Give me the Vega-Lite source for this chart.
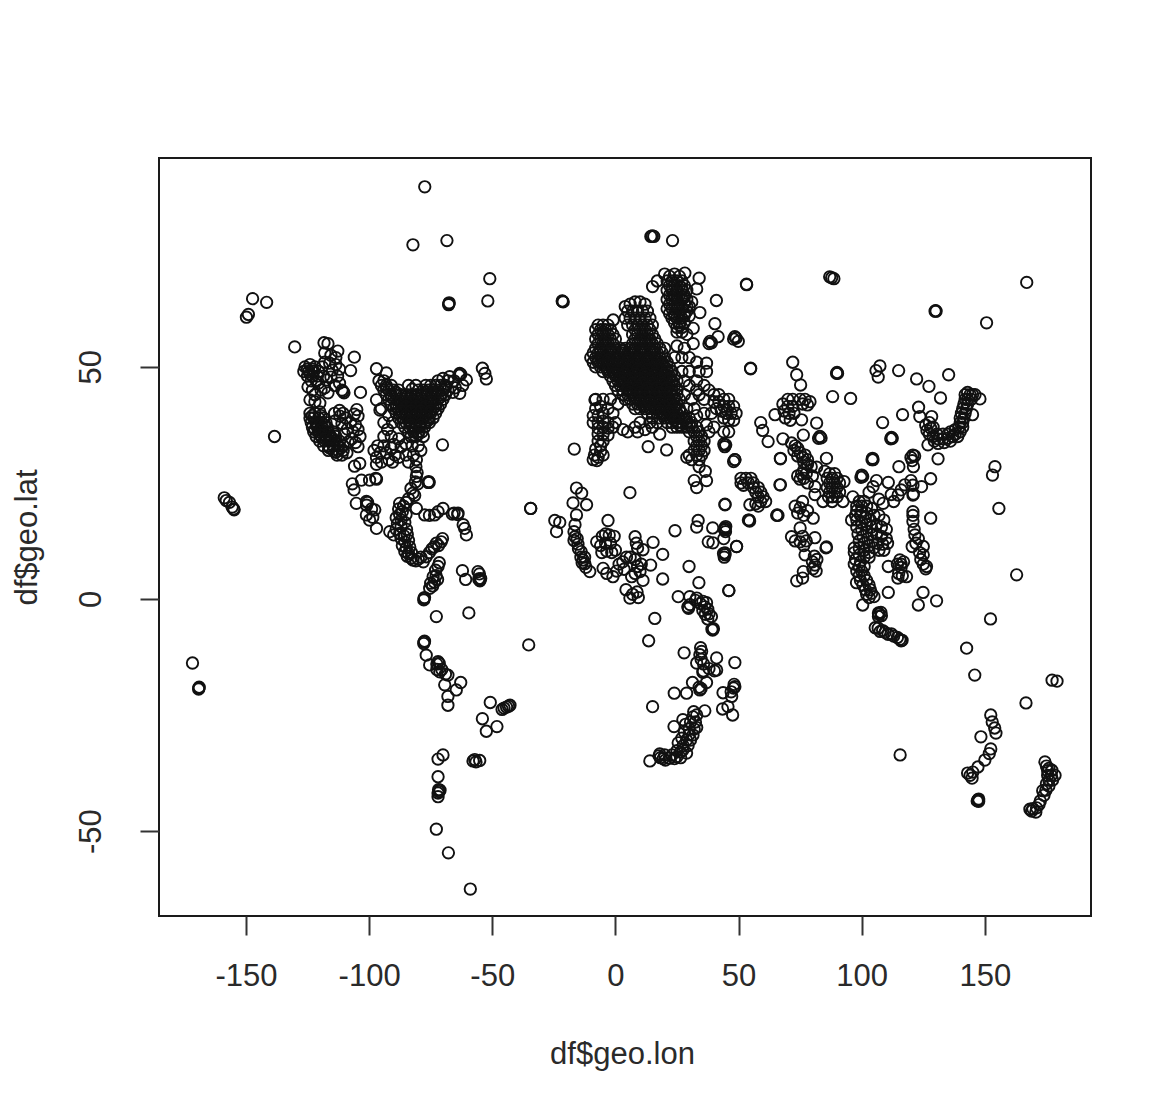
{"$schema":"https://vega.github.io/schema/vega-lite/v6.json","width":932,"height":758,"autosize":"none","padding":{"left":159,"top":158,"right":79,"bottom":194},"background":"white","config":{"view":{"stroke":"#1a1a1a","strokeWidth":2,"fill":"white"},"font":"Liberation Sans"},
"data":{"values":[
{"lon":-77.4,"lat":88.8},{"lon":-82.2,"lat":76.3},{"lon":-68.4,"lat":77.2},{"lon":-67.6,"lat":63.6},{"lon":-67.5,"lat":63.8},{"lon":-67.7,"lat":63.4},{"lon":-51,"lat":69},{"lon":-51.8,"lat":64.2},{"lon":-147.3,"lat":64.7},{"lon":-141.6,"lat":63.9},{"lon":-149.8,"lat":60.7},{"lon":-149,"lat":61.3},{"lon":-130.2,"lat":54.3},{"lon":-138.4,"lat":35},{"lon":-70.2,"lat":33.2},{"lon":-158.8,"lat":21.8},{"lon":-158,"lat":21.2},{"lon":-156.7,"lat":20.8},{"lon":-155.6,"lat":19.8},{"lon":-155,"lat":19.4},{"lon":-154.8,"lat":19.2},{"lon":-34.4,"lat":19.5},
{"lon":-171.7,"lat":-13.8},{"lon":-169.1,"lat":-19.2},{"lon":-169,"lat":-19},{"lon":-169.2,"lat":-19.4},{"lon":-77.7,"lat":0.1},{"lon":-77.5,"lat":0.3},{"lon":-77.8,"lat":-0.2},{"lon":-72.7,"lat":-3.8},{"lon":-59.5,"lat":-3},{"lon":-35.2,"lat":-9.9},{"lon":-77.7,"lat":-9.3},{"lon":-77.5,"lat":-9.1},{"lon":-77.8,"lat":-9.6},{"lon":-76.8,"lat":-12.1},{"lon":-75.4,"lat":-14.2},{"lon":-72,"lat":-13.5},{"lon":-72.5,"lat":-14},{"lon":-71.5,"lat":-13.9},{"lon":-71.3,"lat":-15.7},{"lon":-72.5,"lat":-15.2},{"lon":-70.5,"lat":-15.2},{"lon":-68,"lat":-16.4},{"lon":-69,"lat":-16.2},{"lon":-69.3,"lat":-18.5},{"lon":-62.8,"lat":-18},{"lon":-64.6,"lat":-19.6},{"lon":-68,"lat":-21},{"lon":-68,"lat":-22.9},{"lon":-50.8,"lat":-22.3},{"lon":-46,"lat":-23.8},{"lon":-45.2,"lat":-23.5},{"lon":-44.2,"lat":-23.3},{"lon":-43.4,"lat":-23.1},{"lon":-42.8,"lat":-22.9},{"lon":-54,"lat":-25.8},{"lon":-48.1,"lat":-27.5},{"lon":-52.4,"lat":-28.5},{"lon":-70,"lat":-33.6},{"lon":-72,"lat":-34.5},{"lon":-72,"lat":-38.3},{"lon":-71.6,"lat":-41.5},{"lon":-71.2,"lat":-41.2},{"lon":-72,"lat":-41.8},{"lon":-71.8,"lat":-41.1},{"lon":-72,"lat":-42.6},{"lon":-72.7,"lat":-49.6},{"lon":-67.8,"lat":-54.7},{"lon":-58.9,"lat":-62.5},{"lon":-57.8,"lat":-34.9},{"lon":-57.1,"lat":-34.6},{"lon":-56.6,"lat":-35.1},{"lon":-55.1,"lat":-34.8},
{"lon":-34.4,"lat":19.5},{"lon":-80.8,"lat":30},{"lon":-81,"lat":28.5},{"lon":-80.5,"lat":27.2},{"lon":-80.8,"lat":26.4},{"lon":-81.2,"lat":25.2},{"lon":-80.2,"lat":24.8},{"lon":-75.8,"lat":25.3},{"lon":-75.6,"lat":25.1},{"lon":-76,"lat":25.1},{"lon":-82.2,"lat":22.8},{"lon":-83,"lat":23.8},{"lon":-81.5,"lat":22.3},{"lon":-84,"lat":21.6},{"lon":-85,"lat":20.8},{"lon":-87.6,"lat":20.6},{"lon":-86,"lat":20},{"lon":-88,"lat":19.4},{"lon":-86.5,"lat":18.8},{"lon":-85,"lat":18.2},{"lon":-87.6,"lat":18.2},{"lon":-89,"lat":17.5},{"lon":-87,"lat":17},{"lon":-85.5,"lat":16.5},{"lon":-88.5,"lat":16.2},{"lon":-87,"lat":15.6},{"lon":-84.8,"lat":15},{"lon":-89,"lat":15},{"lon":-91.6,"lat":14.5},{"lon":-87.6,"lat":14.1},{"lon":-85.8,"lat":13.6},{"lon":-84.5,"lat":13.9},{"lon":-90,"lat":13.8},{"lon":-87,"lat":13},{"lon":-85.5,"lat":12.3},{"lon":-84,"lat":12.6},{"lon":-86.5,"lat":11.5},{"lon":-84.9,"lat":11},{"lon":-83.5,"lat":11.2},{"lon":-85.5,"lat":10.2},{"lon":-84,"lat":9.8},{"lon":-82.8,"lat":10},{"lon":-84.5,"lat":9.2},{"lon":-83,"lat":8.8},{"lon":-82.2,"lat":8.4},{"lon":-81,"lat":8.2},{"lon":-80,"lat":8.6},{"lon":-79,"lat":9},{"lon":-76.8,"lat":9.1},{"lon":-78,"lat":8},{"lon":-75.5,"lat":10},{"lon":-74.5,"lat":10.8},{"lon":-73.6,"lat":11.2},{"lon":-72.7,"lat":12},{"lon":-71.8,"lat":11.5},{"lon":-70.7,"lat":12.3},{"lon":-70.2,"lat":13},{"lon":-72,"lat":7},{"lon":-73,"lat":6.2},{"lon":-71.5,"lat":7.8},{"lon":-74,"lat":4.8},{"lon":-72.8,"lat":5},{"lon":-72.2,"lat":4.2},{"lon":-73.5,"lat":3.6},{"lon":-75.4,"lat":2.3},{"lon":-74.2,"lat":2.8},{"lon":-75,"lat":3.4},{"lon":-80.8,"lat":19.5},{"lon":-77.4,"lat":18.1},{"lon":-75.5,"lat":18},{"lon":-73.4,"lat":18.1},{"lon":-72,"lat":18.8},{"lon":-70,"lat":19.5},{"lon":-66.2,"lat":18.3},{"lon":-65.5,"lat":18.5},{"lon":-63.9,"lat":18.5},{"lon":-64,"lat":18.2},{"lon":-61.8,"lat":16},{"lon":-61.2,"lat":15.2},{"lon":-60.5,"lat":13.8},{"lon":-62.1,"lat":6.1},{"lon":-60.8,"lat":4.2},{"lon":-55.8,"lat":5.9},{"lon":-55.2,"lat":5.4},{"lon":-55.1,"lat":4.1},{"lon":-55,"lat":3.9},{"lon":-55.5,"lat":4.3},{"lon":-54.7,"lat":4.4},
{"lon":-105.9,"lat":28.6},{"lon":-103.8,"lat":29.2},{"lon":-106.8,"lat":24.8},{"lon":-106.1,"lat":23.5},{"lon":-103.1,"lat":25.6},{"lon":-99.8,"lat":25.6},{"lon":-97.3,"lat":26},{"lon":-97,"lat":25.8},{"lon":-105.2,"lat":20.6},{"lon":-101.1,"lat":21},{"lon":-101,"lat":20.2},{"lon":-100.6,"lat":20.8},{"lon":-99,"lat":19.4},{"lon":-97.7,"lat":19.2},{"lon":-101.1,"lat":18.1},{"lon":-99.8,"lat":17},{"lon":-98.5,"lat":17.6},{"lon":-97,"lat":15.2},
{"lon":-98,"lat":32},{"lon":-97,"lat":30.5},{"lon":-96.5,"lat":33},{"lon":-95.5,"lat":31.5},{"lon":-97,"lat":29},{"lon":-95,"lat":29.5},{"lon":-94,"lat":33},{"lon":-93,"lat":31.5},{"lon":-92,"lat":30},{"lon":-90.5,"lat":29.5},{"lon":-91,"lat":32.5},{"lon":-89.5,"lat":31},{"lon":-88,"lat":30.5},{"lon":-95,"lat":41},{"lon":-92,"lat":39.5},{"lon":-94,"lat":38},{"lon":-90.5,"lat":38},{"lon":-92.5,"lat":36.5},{"lon":-94,"lat":35},{"lon":-91,"lat":35},{"lon":-88,"lat":34.5},{"lon":-90,"lat":33.3},{"lon":-87,"lat":32.8},{"lon":-85,"lat":33.4},{"lon":-85,"lat":31},{"lon":-82.5,"lat":33},{"lon":-80,"lat":33},{"lon":-78,"lat":35},{"lon":-79,"lat":32},{"lon":-82,"lat":31},{"lon":-84,"lat":29.5},
{"lon":-124,"lat":40},{"lon":-122,"lat":40},{"lon":-120,"lat":40.3},{"lon":-124,"lat":39},{"lon":-122.5,"lat":39},{"lon":-120.5,"lat":39},{"lon":-118.5,"lat":39},{"lon":-123.5,"lat":38},{"lon":-121.5,"lat":38},{"lon":-119.5,"lat":38},{"lon":-117.5,"lat":38},{"lon":-123,"lat":37},{"lon":-121,"lat":37},{"lon":-119,"lat":37},{"lon":-117,"lat":37},{"lon":-122.5,"lat":36},{"lon":-120.5,"lat":36},{"lon":-118.5,"lat":36},{"lon":-116.5,"lat":36},{"lon":-114.5,"lat":36},{"lon":-121.5,"lat":35},{"lon":-119.5,"lat":35},{"lon":-117.5,"lat":35},{"lon":-115.5,"lat":35},{"lon":-113.5,"lat":35},{"lon":-120,"lat":34},{"lon":-118,"lat":34},{"lon":-116,"lat":34},{"lon":-114,"lat":34},{"lon":-112,"lat":34},{"lon":-118.5,"lat":33},{"lon":-116.5,"lat":33},{"lon":-114.5,"lat":33},{"lon":-112.5,"lat":33},{"lon":-110.5,"lat":33},{"lon":-116.5,"lat":32},{"lon":-114.5,"lat":32},{"lon":-112.5,"lat":32},{"lon":-110.5,"lat":32},{"lon":-113,"lat":31},{"lon":-111,"lat":31},{"lon":-109,"lat":31.5},{"lon":-123,"lat":39.5},{"lon":-119.5,"lat":39.5},{"lon":-121,"lat":37.6},{"lon":-118,"lat":37.5},{"lon":-122,"lat":36.5},{"lon":-119.5,"lat":36.5},{"lon":-116.5,"lat":35.5},{"lon":-114,"lat":35.5},{"lon":-120,"lat":35.4},{"lon":-118,"lat":34.5},{"lon":-115,"lat":34.5},{"lon":-113,"lat":33.5},{"lon":-116,"lat":32.5},{"lon":-111.5,"lat":32.5},{"lon":-113.5,"lat":31.6},
{"lon":-114,"lat":40},{"lon":-112,"lat":40.6},{"lon":-110.6,"lat":40},{"lon":-111.9,"lat":39.4},{"lon":-109.5,"lat":39},{"lon":-114,"lat":38.3},{"lon":-111,"lat":37.8},{"lon":-107.5,"lat":38},{"lon":-105,"lat":40.8},{"lon":-104.5,"lat":39.4},{"lon":-106,"lat":39.8},{"lon":-105.5,"lat":37.5},{"lon":-108.8,"lat":36.6},{"lon":-106.5,"lat":36},{"lon":-104.5,"lat":36.5},{"lon":-110,"lat":35.5},{"lon":-107,"lat":34.5},{"lon":-103.7,"lat":35},{"lon":-104.5,"lat":32.8},{"lon":-105.5,"lat":33.7},{"lon":-108.5,"lat":33.8},
{"lon":-126,"lat":50},{"lon":-124,"lat":50.5},{"lon":-122,"lat":50},{"lon":-126.5,"lat":49},{"lon":-124.5,"lat":49},{"lon":-122.5,"lat":49},{"lon":-120.5,"lat":49},{"lon":-125,"lat":48},{"lon":-123,"lat":48},{"lon":-121,"lat":48},{"lon":-123.5,"lat":47},{"lon":-121.5,"lat":47},{"lon":-125,"lat":49.5},{"lon":-123,"lat":49.5},{"lon":-124,"lat":48.5},{"lon":-118.3,"lat":55.2},{"lon":-116.7,"lat":55},{"lon":-112.7,"lat":53.4},{"lon":-106,"lat":52.1},{"lon":-107.5,"lat":49.2},{"lon":-97,"lat":49.6},{"lon":-93,"lat":48.7},{"lon":-118,"lat":53},{"lon":-115.5,"lat":52.5},{"lon":-113.5,"lat":52},{"lon":-118,"lat":51},{"lon":-116,"lat":50.8},{"lon":-113.5,"lat":50.5},{"lon":-119,"lat":50},{"lon":-115,"lat":49.3},{"lon":-112,"lat":49.5},{"lon":-118.5,"lat":48},{"lon":-115.5,"lat":47.8},{"lon":-112.8,"lat":48},{"lon":-117.3,"lat":47.2},{"lon":-110.6,"lat":44.7},{"lon":-111,"lat":45},{"lon":-110.2,"lat":44.4},{"lon":-103.5,"lat":44.5},{"lon":-116.7,"lat":44.4},{"lon":-124.8,"lat":45.7},{"lon":-124,"lat":42.9},{"lon":-120,"lat":42.2},{"lon":-122,"lat":44},{"lon":-119.5,"lat":45},{"lon":-114,"lat":46},{"lon":-112,"lat":46.5},{"lon":-123,"lat":45},{"lon":-120.5,"lat":46.5},{"lon":-118,"lat":45.5},{"lon":-122,"lat":42.5},
{"lon":-97,"lat":42.9},{"lon":-95.6,"lat":40.7},{"lon":-96,"lat":47},{"lon":-94,"lat":47},{"lon":-72,"lat":47},{"lon":-70,"lat":47.5},{"lon":-68,"lat":47},{"lon":-95,"lat":46},{"lon":-93,"lat":46},{"lon":-91,"lat":46},{"lon":-77,"lat":46},{"lon":-75,"lat":46},{"lon":-73,"lat":46},{"lon":-71,"lat":46},{"lon":-69,"lat":46},{"lon":-94,"lat":45},{"lon":-92,"lat":45},{"lon":-90,"lat":45},{"lon":-88,"lat":45},{"lon":-80,"lat":45},{"lon":-78,"lat":45},{"lon":-76,"lat":45},{"lon":-74,"lat":45},{"lon":-72,"lat":45},{"lon":-70,"lat":45},{"lon":-68,"lat":45},{"lon":-93,"lat":44},{"lon":-91,"lat":44},{"lon":-89,"lat":44},{"lon":-87,"lat":44},{"lon":-85,"lat":44},{"lon":-83,"lat":44},{"lon":-81,"lat":44},{"lon":-79,"lat":44},{"lon":-77,"lat":44},{"lon":-75,"lat":44},{"lon":-73,"lat":44},{"lon":-71,"lat":44},{"lon":-69,"lat":44},{"lon":-92,"lat":43},{"lon":-90,"lat":43},{"lon":-88,"lat":43},{"lon":-86,"lat":43},{"lon":-84,"lat":43},{"lon":-82,"lat":43},{"lon":-80,"lat":43},{"lon":-78,"lat":43},{"lon":-76,"lat":43},{"lon":-74,"lat":43},{"lon":-72,"lat":43},{"lon":-70,"lat":43},{"lon":-91,"lat":42},{"lon":-89,"lat":42},{"lon":-87,"lat":42},{"lon":-85,"lat":42},{"lon":-83,"lat":42},{"lon":-81,"lat":42},{"lon":-79,"lat":42},{"lon":-77,"lat":42},{"lon":-75,"lat":42},{"lon":-73,"lat":42},{"lon":-71,"lat":42},{"lon":-90,"lat":41},{"lon":-88,"lat":41},{"lon":-86,"lat":41},{"lon":-84,"lat":41},{"lon":-82,"lat":41},{"lon":-80,"lat":41},{"lon":-78,"lat":41},{"lon":-76,"lat":41},{"lon":-74,"lat":41},{"lon":-72,"lat":41},{"lon":-89,"lat":40},{"lon":-87,"lat":40},{"lon":-85,"lat":40},{"lon":-83,"lat":40},{"lon":-81,"lat":40},{"lon":-79,"lat":40},{"lon":-77,"lat":40},{"lon":-75,"lat":40},{"lon":-73,"lat":40},{"lon":-88,"lat":39},{"lon":-86,"lat":39},{"lon":-84,"lat":39},{"lon":-82,"lat":39},{"lon":-80,"lat":39},{"lon":-78,"lat":39},{"lon":-76,"lat":39},{"lon":-74,"lat":39},{"lon":-87,"lat":38},{"lon":-85,"lat":38},{"lon":-83,"lat":38},{"lon":-81,"lat":38},{"lon":-79,"lat":38},{"lon":-77,"lat":38},{"lon":-75.5,"lat":38},{"lon":-85.5,"lat":37},{"lon":-83.5,"lat":37},{"lon":-81.5,"lat":37},{"lon":-79.5,"lat":37},{"lon":-77.5,"lat":37},{"lon":-84,"lat":36},{"lon":-82,"lat":36},{"lon":-80,"lat":36},{"lon":-78.5,"lat":36},{"lon":-83,"lat":35},{"lon":-81,"lat":35},{"lon":-93,"lat":45.5},{"lon":-89,"lat":44.5},{"lon":-85,"lat":43.5},{"lon":-81,"lat":43.5},{"lon":-77,"lat":44.5},{"lon":-73,"lat":44.5},{"lon":-69,"lat":45.5},{"lon":-91,"lat":43.5},{"lon":-87,"lat":42.5},{"lon":-83,"lat":42.5},{"lon":-79,"lat":42.5},{"lon":-75,"lat":42.5},{"lon":-71,"lat":43.5},{"lon":-89,"lat":41.5},{"lon":-85,"lat":41.5},{"lon":-81,"lat":41.5},{"lon":-77,"lat":41.5},{"lon":-73,"lat":41.5},{"lon":-87,"lat":40.5},{"lon":-83,"lat":40.5},{"lon":-79,"lat":40.5},{"lon":-75,"lat":40.5},{"lon":-85,"lat":39.5},{"lon":-81,"lat":39.5},{"lon":-77,"lat":39.5},{"lon":-84,"lat":38.5},{"lon":-80,"lat":38.5},{"lon":-76,"lat":38.5},{"lon":-83,"lat":37.5},{"lon":-79,"lat":37.5},{"lon":-82,"lat":36.5},{"lon":-80,"lat":35.5},{"lon":-63.2,"lat":44.3},{"lon":-63.2,"lat":48.6},{"lon":-63.5,"lat":48.2},{"lon":-62.8,"lat":48.4},{"lon":-60.5,"lat":47.2},{"lon":-54,"lat":49.7},{"lon":-53,"lat":48.6},{"lon":-52.4,"lat":47.4},{"lon":-67.3,"lat":47.9},{"lon":-65.5,"lat":47},{"lon":-65,"lat":45.5},{"lon":-62,"lat":46},{"lon":-66,"lat":44.5},{"lon":-84,"lat":46},{"lon":-81,"lat":46},{"lon":-82.5,"lat":45.2},
{"lon":14.4,"lat":78.1},{"lon":15.6,"lat":78.1},{"lon":15,"lat":78.2},{"lon":23.2,"lat":77.2},{"lon":-21.4,"lat":64.1},{"lon":-21.2,"lat":64},{"lon":-21.6,"lat":64.2},{"lon":53.2,"lat":67.8},{"lon":41,"lat":64.3},{"lon":34.3,"lat":61.7},{"lon":34,"lat":69.1},{"lon":28.2,"lat":70.2},{"lon":33,"lat":66.8},{"lon":15.1,"lat":67.3},{"lon":17,"lat":68.5},{"lon":40.4,"lat":59.3},{"lon":41.7,"lat":56.5},{"lon":38.4,"lat":55.5},{"lon":38,"lat":55},{"lon":39,"lat":55.2},{"lon":48.5,"lat":56.5},{"lon":48,"lat":56},{"lon":49,"lat":56.2},{"lon":49.9,"lat":55.5},{"lon":54.9,"lat":49.7},{"lon":37,"lat":50.8},{"lon":31.6,"lat":55},{"lon":31.6,"lat":58.3},{"lon":-0.9,"lat":60.1},{"lon":-8.3,"lat":42.9},{"lon":-16.7,"lat":32.3},{"lon":13.3,"lat":32.8},{"lon":20.8,"lat":32.1},{"lon":5.9,"lat":22.9},{"lon":44.5,"lat":20.4},{"lon":66.8,"lat":24.6},{"lon":67,"lat":30.3},
{"lon":20,"lat":70},{"lon":22,"lat":69.5},{"lon":24,"lat":70},{"lon":26,"lat":69.5},{"lon":21,"lat":68.5},{"lon":23,"lat":68.5},{"lon":25,"lat":68.5},{"lon":27,"lat":68.5},{"lon":22,"lat":67.5},{"lon":24,"lat":67.5},{"lon":26,"lat":67.5},{"lon":28,"lat":67.5},{"lon":21,"lat":66.5},{"lon":23,"lat":66.5},{"lon":25,"lat":66.5},{"lon":27,"lat":66.5},{"lon":29,"lat":66.5},{"lon":22,"lat":65.5},{"lon":24,"lat":65.5},{"lon":26,"lat":65.5},{"lon":28,"lat":65.5},{"lon":21,"lat":64.5},{"lon":23,"lat":64.5},{"lon":25,"lat":64.5},{"lon":27,"lat":64.5},{"lon":29,"lat":64.5},{"lon":31,"lat":64},{"lon":22,"lat":63.5},{"lon":24,"lat":63.5},{"lon":26,"lat":63.5},{"lon":28,"lat":63.5},{"lon":30,"lat":63},{"lon":21,"lat":62.5},{"lon":23,"lat":62.5},{"lon":25,"lat":62.5},{"lon":27,"lat":62.5},{"lon":29,"lat":62},{"lon":22,"lat":61.5},{"lon":24,"lat":61.5},{"lon":26,"lat":61.5},{"lon":28,"lat":61.5},{"lon":30,"lat":61},{"lon":23,"lat":60.5},{"lon":25,"lat":60.5},{"lon":27,"lat":60.5},{"lon":24,"lat":59.5},{"lon":26,"lat":59.5},{"lon":28,"lat":59.5},{"lon":25,"lat":58.5},{"lon":27,"lat":58.5},{"lon":25,"lat":57.5},{"lon":27,"lat":57.5},{"lon":29,"lat":57},{"lon":23,"lat":67},{"lon":27,"lat":67},{"lon":24,"lat":65},{"lon":28,"lat":65},{"lon":25,"lat":63},{"lon":29,"lat":63},{"lon":24,"lat":61},{"lon":28,"lat":61},{"lon":26,"lat":59},
{"lon":-7,"lat":59},{"lon":-5,"lat":59},{"lon":-3,"lat":59},{"lon":-8,"lat":58},{"lon":-6,"lat":58},{"lon":-4,"lat":58},{"lon":-2,"lat":58},{"lon":-7,"lat":57},{"lon":-5,"lat":57},{"lon":-3,"lat":57},{"lon":-1,"lat":57},{"lon":-8,"lat":56},{"lon":-6,"lat":56},{"lon":-4,"lat":56},{"lon":-2,"lat":56},{"lon":0,"lat":56},{"lon":-7,"lat":55},{"lon":-5,"lat":55},{"lon":-3,"lat":55},{"lon":-1,"lat":55},{"lon":-8,"lat":54},{"lon":-6,"lat":54},{"lon":-4,"lat":54},{"lon":-2,"lat":54},{"lon":0,"lat":54},{"lon":-5,"lat":57.5},{"lon":-4,"lat":55.5},{"lon":-6,"lat":53.5},{"lon":-2,"lat":53.5},{"lon":4,"lat":63},{"lon":6,"lat":63.5},{"lon":8,"lat":64},{"lon":10,"lat":64},{"lon":12,"lat":63.5},{"lon":5,"lat":62},{"lon":7,"lat":62},{"lon":9,"lat":62},{"lon":11,"lat":62},{"lon":13,"lat":62},{"lon":4,"lat":60.5},{"lon":6,"lat":60.5},{"lon":8,"lat":60.5},{"lon":10,"lat":60.5},{"lon":12,"lat":60.5},{"lon":14,"lat":60.5},{"lon":5,"lat":59},{"lon":7,"lat":59},{"lon":9,"lat":59},{"lon":11,"lat":59},{"lon":13,"lat":59},{"lon":15,"lat":59},{"lon":8,"lat":58},{"lon":10,"lat":58},{"lon":12,"lat":58},{"lon":14,"lat":58},{"lon":7,"lat":57},{"lon":9,"lat":57},{"lon":11,"lat":57},{"lon":13,"lat":57},{"lon":15,"lat":57},{"lon":8,"lat":56},{"lon":10,"lat":56},{"lon":12,"lat":56},{"lon":14,"lat":56},{"lon":16,"lat":56},{"lon":7,"lat":55},{"lon":9,"lat":55},{"lon":11,"lat":55},{"lon":13,"lat":55},{"lon":15,"lat":55},{"lon":17,"lat":55},{"lon":2,"lat":54},{"lon":4,"lat":54},{"lon":6,"lat":54},{"lon":8,"lat":54},{"lon":10,"lat":54},{"lon":12,"lat":54},{"lon":14,"lat":54},{"lon":16,"lat":54},{"lon":18,"lat":54},{"lon":20,"lat":54},{"lon":10,"lat":55.5},{"lon":14,"lat":55.5},{"lon":3,"lat":53.5},{"lon":7,"lat":53.5},{"lon":11,"lat":53.5},{"lon":15,"lat":53.5},
{"lon":-9,"lat":53},{"lon":-7,"lat":53},{"lon":-5,"lat":53},{"lon":-3,"lat":53},{"lon":-1,"lat":53},{"lon":1,"lat":53},{"lon":3,"lat":53},{"lon":5,"lat":53},{"lon":7,"lat":53},{"lon":9,"lat":53},{"lon":11,"lat":53},{"lon":13,"lat":53},{"lon":15,"lat":53},{"lon":17,"lat":53},{"lon":19,"lat":53},{"lon":-10,"lat":52},{"lon":-8,"lat":52},{"lon":-6,"lat":52},{"lon":-4,"lat":52},{"lon":-2,"lat":52},{"lon":0,"lat":52},{"lon":2,"lat":52},{"lon":4,"lat":52},{"lon":6,"lat":52},{"lon":8,"lat":52},{"lon":10,"lat":52},{"lon":12,"lat":52},{"lon":14,"lat":52},{"lon":16,"lat":52},{"lon":18,"lat":52},{"lon":20,"lat":52},{"lon":-9,"lat":51},{"lon":-7,"lat":51},{"lon":-5,"lat":51},{"lon":-3,"lat":51},{"lon":-1,"lat":51},{"lon":1,"lat":51},{"lon":3,"lat":51},{"lon":5,"lat":51},{"lon":7,"lat":51},{"lon":9,"lat":51},{"lon":11,"lat":51},{"lon":13,"lat":51},{"lon":15,"lat":51},{"lon":17,"lat":51},{"lon":19,"lat":51},{"lon":21,"lat":51},{"lon":-8,"lat":50},{"lon":-6,"lat":50},{"lon":-4,"lat":50},{"lon":-2,"lat":50},{"lon":0,"lat":50},{"lon":2,"lat":50},{"lon":4,"lat":50},{"lon":6,"lat":50},{"lon":8,"lat":50},{"lon":10,"lat":50},{"lon":12,"lat":50},{"lon":14,"lat":50},{"lon":16,"lat":50},{"lon":18,"lat":50},{"lon":20,"lat":50},{"lon":22,"lat":50},{"lon":-5,"lat":49},{"lon":-3,"lat":49},{"lon":-1,"lat":49},{"lon":1,"lat":49},{"lon":3,"lat":49},{"lon":5,"lat":49},{"lon":7,"lat":49},{"lon":9,"lat":49},{"lon":11,"lat":49},{"lon":13,"lat":49},{"lon":15,"lat":49},{"lon":17,"lat":49},{"lon":19,"lat":49},{"lon":21,"lat":49},{"lon":23,"lat":49},{"lon":-2,"lat":48},{"lon":0,"lat":48},{"lon":2,"lat":48},{"lon":4,"lat":48},{"lon":6,"lat":48},{"lon":8,"lat":48},{"lon":10,"lat":48},{"lon":12,"lat":48},{"lon":14,"lat":48},{"lon":16,"lat":48},{"lon":18,"lat":48},{"lon":20,"lat":48},{"lon":22,"lat":48},{"lon":24,"lat":48},{"lon":-1,"lat":47},{"lon":1,"lat":47},{"lon":3,"lat":47},{"lon":5,"lat":47},{"lon":7,"lat":47},{"lon":9,"lat":47},{"lon":11,"lat":47},{"lon":13,"lat":47},{"lon":15,"lat":47},{"lon":17,"lat":47},{"lon":19,"lat":47},{"lon":21,"lat":47},{"lon":23,"lat":47},{"lon":25,"lat":47},{"lon":0,"lat":46},{"lon":2,"lat":46},{"lon":4,"lat":46},{"lon":6,"lat":46},{"lon":8,"lat":46},{"lon":10,"lat":46},{"lon":12,"lat":46},{"lon":14,"lat":46},{"lon":16,"lat":46},{"lon":18,"lat":46},{"lon":20,"lat":46},{"lon":22,"lat":46},{"lon":24,"lat":46},{"lon":1,"lat":45},{"lon":3,"lat":45},{"lon":5,"lat":45},{"lon":7,"lat":45},{"lon":9,"lat":45},{"lon":11,"lat":45},{"lon":13,"lat":45},{"lon":15,"lat":45},{"lon":17,"lat":45},{"lon":19,"lat":45},{"lon":21,"lat":45},{"lon":23,"lat":45},{"lon":25,"lat":45},{"lon":3,"lat":44},{"lon":5,"lat":44},{"lon":7,"lat":44},{"lon":9,"lat":44},{"lon":11,"lat":44},{"lon":13,"lat":44},{"lon":15,"lat":44},{"lon":17,"lat":44},{"lon":19,"lat":44},{"lon":21,"lat":44},{"lon":23,"lat":44},{"lon":25,"lat":44},{"lon":4,"lat":43},{"lon":6,"lat":43},{"lon":8,"lat":43},{"lon":10,"lat":43},{"lon":12,"lat":43},{"lon":14,"lat":43},{"lon":16,"lat":43},{"lon":18,"lat":43},{"lon":20,"lat":43},{"lon":22,"lat":43},{"lon":24,"lat":43},{"lon":26,"lat":43},{"lon":7,"lat":42},{"lon":9,"lat":42},{"lon":11,"lat":42},{"lon":13,"lat":42},{"lon":15,"lat":42},{"lon":17,"lat":42},{"lon":19,"lat":42},{"lon":21,"lat":42},{"lon":23,"lat":42},{"lon":25,"lat":42},{"lon":8,"lat":41},{"lon":10,"lat":41},{"lon":12,"lat":41},{"lon":14,"lat":41},{"lon":16,"lat":41},{"lon":18,"lat":41},{"lon":20,"lat":41},{"lon":22,"lat":41},{"lon":24,"lat":41},{"lon":26,"lat":41},{"lon":13,"lat":40},{"lon":15,"lat":40},{"lon":17,"lat":40},{"lon":19,"lat":40},{"lon":21,"lat":40},{"lon":23,"lat":40},{"lon":25,"lat":40},{"lon":27,"lat":40},{"lon":15,"lat":39},{"lon":18,"lat":39},{"lon":20,"lat":39},{"lon":22,"lat":39},{"lon":24,"lat":39},{"lon":26,"lat":39},{"lon":28,"lat":39},{"lon":30,"lat":39},{"lon":21,"lat":38},{"lon":23,"lat":38},{"lon":25,"lat":38},{"lon":27,"lat":38},{"lon":29,"lat":38},{"lon":31,"lat":38},{"lon":23,"lat":37},{"lon":25,"lat":37},{"lon":27,"lat":37},{"lon":29,"lat":37},{"lon":31,"lat":37},{"lon":33,"lat":37},{"lon":-7,"lat":51.5},{"lon":-3,"lat":51.5},{"lon":1,"lat":51.5},{"lon":5,"lat":51.5},{"lon":9,"lat":51.5},{"lon":13,"lat":51.5},{"lon":17,"lat":51.5},{"lon":-5,"lat":50.5},{"lon":-1,"lat":50.5},{"lon":3,"lat":50.5},{"lon":7,"lat":50.5},{"lon":11,"lat":50.5},{"lon":15,"lat":50.5},{"lon":19,"lat":50.5},{"lon":-3,"lat":49.5},{"lon":1,"lat":49.5},{"lon":5,"lat":49.5},{"lon":9,"lat":49.5},{"lon":13,"lat":49.5},{"lon":17,"lat":49.5},{"lon":21,"lat":49.5},{"lon":0,"lat":48.5},{"lon":4,"lat":48.5},{"lon":8,"lat":48.5},{"lon":12,"lat":48.5},{"lon":16,"lat":48.5},{"lon":20,"lat":48.5},{"lon":2,"lat":47.5},{"lon":6,"lat":47.5},{"lon":10,"lat":47.5},{"lon":14,"lat":47.5},{"lon":18,"lat":47.5},{"lon":22,"lat":47.5},{"lon":3,"lat":46.5},{"lon":7,"lat":46.5},{"lon":11,"lat":46.5},{"lon":15,"lat":46.5},{"lon":19,"lat":46.5},{"lon":23,"lat":46.5},{"lon":5,"lat":45.5},{"lon":9,"lat":45.5},{"lon":13,"lat":45.5},{"lon":17,"lat":45.5},{"lon":21,"lat":45.5},{"lon":6,"lat":44.5},{"lon":10,"lat":44.5},{"lon":14,"lat":44.5},{"lon":18,"lat":44.5},{"lon":22,"lat":44.5},{"lon":8,"lat":43.5},{"lon":12,"lat":43.5},{"lon":16,"lat":43.5},{"lon":20,"lat":43.5},{"lon":24,"lat":43.5},{"lon":10,"lat":42.5},{"lon":14,"lat":42.5},{"lon":18,"lat":42.5},{"lon":22,"lat":42.5},{"lon":12,"lat":41.5},{"lon":16,"lat":41.5},{"lon":20,"lat":41.5},{"lon":24,"lat":41.5},{"lon":18,"lat":40.5},{"lon":22,"lat":40.5},{"lon":26,"lat":40.5},{"lon":20,"lat":39.5},{"lon":24,"lat":39.5},{"lon":28,"lat":38.5},{"lon":24,"lat":38.5},{"lon":26,"lat":37.5},{"lon":30,"lat":37.5},{"lon":30,"lat":36},{"lon":32,"lat":36},{"lon":34,"lat":36},{"lon":33,"lat":35},{"lon":35,"lat":35},{"lon":32,"lat":34},{"lon":34,"lat":34},{"lon":36,"lat":34},{"lon":33,"lat":33},{"lon":35,"lat":33},{"lon":32,"lat":32},{"lon":34,"lat":32},{"lon":36,"lat":32},{"lon":33,"lat":31},{"lon":35,"lat":31},{"lon":30,"lat":31},{"lon":31,"lat":30},{"lon":34,"lat":30},{"lon":29,"lat":30.5},{"lon":34,"lat":28.5},{"lon":32,"lat":25.5},{"lon":33,"lat":24},{"lon":37,"lat":25.5},{"lon":36.5,"lat":27.5},{"lon":15,"lat":37},{"lon":17,"lat":38},{"lon":14,"lat":38},{"lon":18,"lat":35.5},{"lon":12,"lat":36.5},
{"lon":-8,"lat":43},{"lon":-5,"lat":43},{"lon":-2,"lat":43},{"lon":1,"lat":42},{"lon":-8,"lat":41},{"lon":-6,"lat":41.5},{"lon":-3,"lat":41},{"lon":-9,"lat":39.5},{"lon":-7,"lat":39.5},{"lon":-5,"lat":40},{"lon":-1,"lat":40},{"lon":-9,"lat":38},{"lon":-7,"lat":38},{"lon":-5,"lat":38.3},{"lon":-3,"lat":38},{"lon":0,"lat":38},{"lon":-7,"lat":36.8},{"lon":-5,"lat":37},{"lon":-3,"lat":36.8},{"lon":-1,"lat":37},{"lon":-7,"lat":35.5},{"lon":-5,"lat":35.5},{"lon":-3,"lat":35.3},{"lon":-7,"lat":34},{"lon":-5,"lat":34},{"lon":-6,"lat":33},{"lon":-8,"lat":32.3},{"lon":-6,"lat":31.8},{"lon":-5,"lat":31},{"lon":-8.5,"lat":31},{"lon":-7,"lat":30.5},{"lon":-7.5,"lat":29.8},{"lon":-9,"lat":30},{"lon":3,"lat":36.5},{"lon":5,"lat":36},{"lon":9,"lat":36},{"lon":10,"lat":38},{"lon":8,"lat":37},
{"lon":28,"lat":47},{"lon":30,"lat":46},{"lon":33,"lat":47},{"lon":36,"lat":46},{"lon":37,"lat":49},{"lon":34,"lat":49},{"lon":30,"lat":49},{"lon":27,"lat":49},{"lon":33,"lat":51},{"lon":30,"lat":52},{"lon":27,"lat":52},{"lon":25,"lat":54.5},{"lon":28,"lat":54},{"lon":24,"lat":52},{"lon":31,"lat":43},{"lon":34,"lat":44},{"lon":36,"lat":43},{"lon":28,"lat":44},{"lon":29,"lat":41},{"lon":32,"lat":41},{"lon":33,"lat":39.5},{"lon":36,"lat":40},{"lon":39,"lat":40},{"lon":37,"lat":37.5},{"lon":38,"lat":36},{"lon":40,"lat":37},{"lon":33,"lat":45},{"lon":38,"lat":45},
{"lon":40,"lat":44},{"lon":42,"lat":44},{"lon":44,"lat":43},{"lon":46,"lat":43},{"lon":40,"lat":42.5},{"lon":42,"lat":42.5},{"lon":44,"lat":41.5},{"lon":46,"lat":41.5},{"lon":48,"lat":41.5},{"lon":41,"lat":41},{"lon":43,"lat":40.5},{"lon":45,"lat":40},{"lon":47,"lat":40},{"lon":49,"lat":40},{"lon":44,"lat":39},{"lon":46,"lat":38.5},{"lon":48,"lat":38.5},{"lon":44.4,"lat":32.8},{"lon":44.8,"lat":33.2},{"lon":44,"lat":33.4},{"lon":48.5,"lat":30},{"lon":48,"lat":29.6},{"lon":46,"lat":36},{"lon":44,"lat":36},
{"lon":51,"lat":26},{"lon":53,"lat":26},{"lon":55,"lat":26},{"lon":51,"lat":25},{"lon":52,"lat":24.5},{"lon":54,"lat":25},{"lon":56,"lat":25},{"lon":56,"lat":24},{"lon":58,"lat":24},{"lon":57,"lat":23},{"lon":59,"lat":23},{"lon":58,"lat":22},{"lon":60,"lat":22},{"lon":59,"lat":21},{"lon":58,"lat":20},{"lon":61,"lat":21},{"lon":57,"lat":20.5},{"lon":54.6,"lat":20.3},{"lon":44.5,"lat":20.3},{"lon":54.3,"lat":17},{"lon":54,"lat":17},{"lon":54.5,"lat":16.8},{"lon":65.7,"lat":18.1},{"lon":65.5,"lat":18},{"lon":66,"lat":18},
{"lon":53.3,"lat":67.7},{"lon":87,"lat":69.4},{"lon":87.8,"lat":69.2},{"lon":88.7,"lat":69},{"lon":167,"lat":68.2},{"lon":130,"lat":62.1},{"lon":130.2,"lat":62},{"lon":129.8,"lat":62},{"lon":150.7,"lat":59.5},{"lon":54.9,"lat":49.6},{"lon":72,"lat":51},{"lon":73.6,"lat":48.3},{"lon":75.2,"lat":46.1},{"lon":90,"lat":48.8},{"lon":90.2,"lat":48.6},{"lon":89.8,"lat":48.6},{"lon":107.4,"lat":50.2},{"lon":105.8,"lat":49.2},{"lon":106.7,"lat":47.8},{"lon":115,"lat":49.2},{"lon":122.3,"lat":47.4},{"lon":127.3,"lat":45.8},{"lon":135.3,"lat":48.3},{"lon":132,"lat":43.3},{"lon":88.2,"lat":43.6},{"lon":95.5,"lat":43.2},{"lon":108.5,"lat":38},{"lon":116.6,"lat":39.7},{"lon":112.1,"lat":34.8},{"lon":112.4,"lat":34.6},{"lon":111.8,"lat":34.5},{"lon":123.1,"lat":41.3},{"lon":123.6,"lat":39.3},{"lon":128.4,"lat":39.3},{"lon":126.9,"lat":33.2},{"lon":131,"lat":30.2},{"lon":154.1,"lat":28.5},{"lon":153.1,"lat":26.7},{"lon":155.7,"lat":19.5},{"lon":162.9,"lat":5.2},{"lon":152.3,"lat":-4.3},{"lon":142.6,"lat":-10.6},{"lon":148,"lat":43.1},{"lon":145,"lat":39.7},
{"lon":142,"lat":44},{"lon":143,"lat":44.5},{"lon":144,"lat":44},{"lon":145,"lat":44},{"lon":146,"lat":44},{"lon":142,"lat":43},{"lon":143,"lat":43},{"lon":144.5,"lat":43},{"lon":141.5,"lat":42},{"lon":143,"lat":42},{"lon":141,"lat":41},{"lon":142.5,"lat":41},{"lon":140.5,"lat":40},{"lon":142,"lat":40},{"lon":140,"lat":39},{"lon":141.5,"lat":39},{"lon":140,"lat":38},{"lon":141,"lat":38},{"lon":139.5,"lat":37},{"lon":141,"lat":37},{"lon":138,"lat":36.5},{"lon":140,"lat":36},{"lon":136,"lat":36},{"lon":138,"lat":35.5},{"lon":135,"lat":35.5},{"lon":133,"lat":35.5},{"lon":139,"lat":35},{"lon":137,"lat":35},{"lon":135,"lat":34.6},{"lon":133,"lat":34.5},{"lon":131,"lat":34.5},{"lon":136,"lat":34},{"lon":133.5,"lat":33.7},{"lon":131,"lat":33.5},{"lon":129.5,"lat":34},{"lon":129,"lat":35},{"lon":130.5,"lat":35.5},{"lon":127.5,"lat":35.5},{"lon":128,"lat":36.8},{"lon":126,"lat":37.5},{"lon":127.5,"lat":38},{"lon":129,"lat":37},{"lon":126.5,"lat":36.3},
{"lon":70,"lat":43},{"lon":72,"lat":43},{"lon":68,"lat":42},{"lon":70,"lat":41.5},{"lon":72,"lat":41.5},{"lon":68.5,"lat":40.5},{"lon":70.5,"lat":40},{"lon":72.5,"lat":40},{"lon":69,"lat":39},{"lon":71,"lat":38.5},{"lon":75,"lat":43},{"lon":77,"lat":43},{"lon":79,"lat":42.5},{"lon":76,"lat":42},{"lon":78,"lat":41.8},{"lon":64.8,"lat":39.7},{"lon":59,"lat":38},{"lon":59.8,"lat":36.3},{"lon":62,"lat":33.9},{"lon":68,"lat":34.5},{"lon":75.6,"lat":38.6},{"lon":81.7,"lat":37.9},{"lon":76.3,"lat":35.3},{"lon":83,"lat":35},{"lon":83.5,"lat":34.7},{"lon":82.5,"lat":34.6},{"lon":67,"lat":30.2},{"lon":67,"lat":24.6},{"lon":71.5,"lat":33.6},{"lon":73,"lat":33},{"lon":72.5,"lat":32},{"lon":74,"lat":32.5},{"lon":75,"lat":31.5},{"lon":74,"lat":30.8},{"lon":76,"lat":30.5},{"lon":77,"lat":31},{"lon":76.5,"lat":29.5},{"lon":78,"lat":29},{"lon":79.5,"lat":28.5},{"lon":78,"lat":30},{"lon":81.7,"lat":28.4},{"lon":85.7,"lat":30.3},{"lon":75.6,"lat":27},{"lon":74,"lat":26.5},{"lon":75,"lat":25.8},{"lon":76.5,"lat":26},{"lon":77.5,"lat":27},{"lon":76.5,"lat":27.8},{"lon":78,"lat":25},{"lon":80,"lat":26.5},{"lon":81,"lat":24.2},{"lon":81,"lat":22.5},{"lon":84.3,"lat":21},{"lon":92.4,"lat":21},{"lon":96.4,"lat":22},{"lon":92.8,"lat":25.3},{"lon":85,"lat":27.5},{"lon":87,"lat":27},{"lon":89,"lat":27},{"lon":86,"lat":26},{"lon":88,"lat":26},{"lon":90,"lat":26},{"lon":87,"lat":25},{"lon":89,"lat":25},{"lon":91,"lat":25},{"lon":86,"lat":24},{"lon":88,"lat":24},{"lon":90,"lat":24},{"lon":87,"lat":23},{"lon":89,"lat":23},{"lon":91,"lat":23},{"lon":86.5,"lat":22},{"lon":88,"lat":22},{"lon":90,"lat":22},{"lon":88,"lat":21},{"lon":45.2,"lat":40.7},{"lon":48.5,"lat":30},{"lon":44.5,"lat":33.2},{"lon":75,"lat":19.6},{"lon":73,"lat":20},{"lon":76,"lat":21},{"lon":74,"lat":18.5},{"lon":76.5,"lat":18},{"lon":78,"lat":19},{"lon":80.3,"lat":17.4},{"lon":71.5,"lat":13.4},{"lon":75,"lat":15.3},{"lon":76,"lat":13.5},{"lon":77.5,"lat":12.5},{"lon":75,"lat":12.3},{"lon":76.5,"lat":11.5},{"lon":73,"lat":12.5},{"lon":81,"lat":13.2},{"lon":85.7,"lat":11.2},{"lon":85.5,"lat":11},{"lon":77,"lat":9.5},{"lon":81,"lat":7.3},{"lon":80.2,"lat":6.5},{"lon":81.5,"lat":6},{"lon":80,"lat":8},{"lon":81.8,"lat":8.5},{"lon":80.8,"lat":9.2},{"lon":76.3,"lat":5.9},{"lon":73.6,"lat":3.9},{"lon":76,"lat":4.5},{"lon":46.1,"lat":1.8},{"lon":44.5,"lat":14.9},{"lon":44.7,"lat":14.5},{"lon":44.5,"lat":9.9},{"lon":44.2,"lat":9},{"lon":49.2,"lat":11.3},
{"lon":99,"lat":21},{"lon":101,"lat":21},{"lon":98,"lat":20},{"lon":100,"lat":20},{"lon":102,"lat":20},{"lon":104,"lat":19.5},{"lon":98,"lat":19},{"lon":100,"lat":19},{"lon":102,"lat":18.5},{"lon":105,"lat":18},{"lon":107,"lat":18},{"lon":97.5,"lat":18},{"lon":99.5,"lat":18},{"lon":101.5,"lat":17.5},{"lon":103.5,"lat":17},{"lon":109,"lat":17},{"lon":98,"lat":17},{"lon":100,"lat":16.5},{"lon":102,"lat":16},{"lon":104,"lat":15.5},{"lon":106,"lat":16},{"lon":108,"lat":15.5},{"lon":110,"lat":15},{"lon":98,"lat":15.5},{"lon":100,"lat":15},{"lon":102,"lat":14.5},{"lon":104,"lat":14},{"lon":106,"lat":14},{"lon":108,"lat":13.5},{"lon":110,"lat":13},{"lon":98.5,"lat":14},{"lon":100.5,"lat":13.5},{"lon":102.5,"lat":13},{"lon":104.5,"lat":12.5},{"lon":106.5,"lat":12},{"lon":108.5,"lat":11.8},{"lon":110.5,"lat":12},{"lon":99,"lat":12.5},{"lon":101,"lat":12},{"lon":103,"lat":11.5},{"lon":105,"lat":11},{"lon":107,"lat":10.5},{"lon":109,"lat":10.5},{"lon":97,"lat":11},{"lon":99,"lat":11},{"lon":101,"lat":10.5},{"lon":103,"lat":10},{"lon":97,"lat":10},{"lon":99,"lat":9.5},{"lon":101,"lat":9},{"lon":103,"lat":9},{"lon":97.5,"lat":8.5},{"lon":99.5,"lat":8},{"lon":97,"lat":7.5},{"lon":99,"lat":7},{"lon":101,"lat":7},{"lon":98,"lat":6},{"lon":100,"lat":6},{"lon":99,"lat":5},{"lon":101,"lat":5},{"lon":99.5,"lat":4},{"lon":102,"lat":4},{"lon":100.5,"lat":3},{"lon":103,"lat":3},{"lon":97.9,"lat":3.5},{"lon":101.5,"lat":2},{"lon":103.5,"lat":2},{"lon":102,"lat":1},{"lon":104,"lat":1.2},{"lon":103,"lat":0.3},{"lon":105,"lat":0.5},{"lon":110.8,"lat":1.4},{"lon":100.4,"lat":-1.3},{"lon":95.9,"lat":17},{"lon":100,"lat":26.7},{"lon":100.4,"lat":26.4},{"lon":99.7,"lat":26.2},{"lon":104.4,"lat":30.3},{"lon":104.6,"lat":30},{"lon":104.2,"lat":30},{"lon":104.6,"lat":24.2},{"lon":106,"lat":25.5},{"lon":103,"lat":23},{"lon":108.7,"lat":20.6},{"lon":107,"lat":21.5},{"lon":110.8,"lat":25.1},{"lon":115.1,"lat":28.5},{"lon":120.8,"lat":31},{"lon":120,"lat":30.5},{"lon":121.5,"lat":30.8},{"lon":120.5,"lat":29.8},{"lon":121,"lat":28.5},{"lon":120,"lat":25.5},{"lon":128,"lat":25.9},{"lon":124.3,"lat":24.2},{"lon":120.8,"lat":22.4},{"lon":121,"lat":22.6},{"lon":120.8,"lat":24.5},{"lon":114.8,"lat":22.4},{"lon":117.5,"lat":24.6},{"lon":116,"lat":23.5},{"lon":112,"lat":22.5},{"lon":113,"lat":21},{"lon":120.8,"lat":18.8},{"lon":120.8,"lat":18},{"lon":120.8,"lat":16.7},{"lon":121.3,"lat":15},{"lon":121.6,"lat":13.8},{"lon":123,"lat":13},{"lon":122,"lat":12},{"lon":125,"lat":11.3},{"lon":120.5,"lat":11.3},{"lon":123.5,"lat":10},{"lon":125,"lat":9.5},{"lon":124,"lat":8.5},{"lon":126.3,"lat":7},{"lon":126,"lat":6.5},{"lon":125,"lat":7.5},{"lon":128,"lat":17.4},
{"lon":115.5,"lat":8.4},{"lon":116,"lat":7.5},{"lon":114.5,"lat":7.5},{"lon":117,"lat":8},{"lon":116,"lat":6.8},{"lon":110.8,"lat":7},{"lon":118.2,"lat":4.8},{"lon":114.7,"lat":4.5},{"lon":115,"lat":5.5},{"lon":116.5,"lat":5},{"lon":124.9,"lat":1.4},{"lon":123,"lat":-1.3},{"lon":130.4,"lat":-0.4},{"lon":107.8,"lat":-2.9},{"lon":106.8,"lat":-3},{"lon":108,"lat":-3.6},{"lon":106.8,"lat":-3.8},{"lon":107,"lat":-3.3},{"lon":105.5,"lat":-6.2},{"lon":106.7,"lat":-6.3},{"lon":107.5,"lat":-7},{"lon":108.5,"lat":-6.8},{"lon":109.5,"lat":-7.2},{"lon":110.7,"lat":-7.6},{"lon":112,"lat":-7.5},{"lon":113,"lat":-8},{"lon":114.5,"lat":-8.3},{"lon":115.5,"lat":-8.7},{"lon":116.4,"lat":-8.9},{"lon":116,"lat":-9},{"lon":115.6,"lat":-33.6},
{"lon":145.9,"lat":-16.4},{"lon":166.7,"lat":-22.4},{"lon":177.3,"lat":-17.5},{"lon":179.3,"lat":-17.7},{"lon":152.4,"lat":-25},{"lon":153,"lat":-26.5},{"lon":154,"lat":-27.8},{"lon":154.5,"lat":-28.9},{"lon":148.4,"lat":-29.7},{"lon":152.4,"lat":-32.3},{"lon":151.8,"lat":-33.3},{"lon":150,"lat":-34.7},{"lon":147.2,"lat":-36.2},{"lon":145.1,"lat":-37.3},{"lon":143,"lat":-37.5},{"lon":144.8,"lat":-38.6},{"lon":144,"lat":-38},{"lon":147.2,"lat":-43.3},{"lon":147.5,"lat":-43.1},{"lon":146.9,"lat":-43.5},{"lon":147.5,"lat":-43.6},{"lon":174.4,"lat":-35.1},{"lon":175,"lat":-36},{"lon":176,"lat":-36.5},{"lon":177.2,"lat":-36.9},{"lon":175.5,"lat":-37},{"lon":178.5,"lat":-38},{"lon":177,"lat":-38},{"lon":175.5,"lat":-38},{"lon":176,"lat":-39},{"lon":177.5,"lat":-39},{"lon":175,"lat":-39.8},{"lon":176,"lat":-40.3},{"lon":174.8,"lat":-41.2},{"lon":173.5,"lat":-41.3},{"lon":174,"lat":-42.3},{"lon":172.5,"lat":-43.5},{"lon":172,"lat":-44.3},{"lon":171,"lat":-45},{"lon":170.7,"lat":-45.9},{"lon":168.3,"lat":-45.3},{"lon":169,"lat":-45.7},{"lon":169.5,"lat":-45.2},
{"lon":-24.6,"lat":16.9},{"lon":-22.6,"lat":16.5},{"lon":-23.9,"lat":14.5},{"lon":-15.8,"lat":23.9},{"lon":-13.7,"lat":22.8},{"lon":-17.2,"lat":20.7},{"lon":-11.7,"lat":20.3},{"lon":-15.8,"lat":18.1},{"lon":-16.4,"lat":16},{"lon":-16.8,"lat":14.5},{"lon":-16.4,"lat":13.4},{"lon":-15.5,"lat":13},{"lon":-16.8,"lat":12.6},{"lon":-15.2,"lat":11.8},{"lon":-15,"lat":10.8},{"lon":-13.9,"lat":10.2},{"lon":-13.1,"lat":8.4},{"lon":-14,"lat":9},{"lon":-12.5,"lat":9},{"lon":-13.5,"lat":7.8},{"lon":-12.4,"lat":7.6},{"lon":-10.4,"lat":5.9},{"lon":-12,"lat":6.8},{"lon":-3,"lat":16.9},{"lon":-7.6,"lat":12.3},{"lon":-5.3,"lat":13.5},{"lon":-4,"lat":14},{"lon":-2.5,"lat":13.8},{"lon":-0.5,"lat":13.5},{"lon":-6,"lat":11.5},{"lon":-4,"lat":12},{"lon":-2,"lat":12},{"lon":-5.5,"lat":10},{"lon":-3.5,"lat":10.3},{"lon":-1.5,"lat":10},{"lon":0,"lat":10.5},{"lon":8,"lat":13.4},{"lon":8.5,"lat":12},{"lon":11.2,"lat":10.6},{"lon":9,"lat":11},{"lon":15.3,"lat":12.2},{"lon":19.2,"lat":9.6},{"lon":14.3,"lat":7.3},{"lon":19.2,"lat":4.3},{"lon":10,"lat":5.9},{"lon":9,"lat":7},{"lon":10.5,"lat":7.5},{"lon":8,"lat":8.5},{"lon":6,"lat":9},{"lon":4.5,"lat":9},{"lon":3,"lat":8},{"lon":1.5,"lat":7.5},{"lon":-5,"lat":6.6},{"lon":-3.5,"lat":5.5},{"lon":-1,"lat":4.8},{"lon":0.5,"lat":6},{"lon":3.5,"lat":6.4},{"lon":6.6,"lat":4.8},{"lon":8,"lat":5.5},{"lon":11.2,"lat":4},{"lon":4.3,"lat":2},{"lon":5.9,"lat":0.2},{"lon":7,"lat":1},{"lon":9.3,"lat":0.3},{"lon":8.8,"lat":1.5},{"lon":24.2,"lat":14.7},{"lon":33.6,"lat":16.9},{"lon":33,"lat":15.5},{"lon":39.5,"lat":15.3},{"lon":44.5,"lat":15.3},{"lon":44.8,"lat":15.6},{"lon":44.2,"lat":15},{"lon":37.7,"lat":12.3},{"lon":39.6,"lat":12.1},{"lon":44,"lat":13},{"lon":49.2,"lat":11.3},{"lon":44.5,"lat":9.5},{"lon":43.9,"lat":9.8},{"lon":29.9,"lat":7},{"lon":33.9,"lat":3.5},{"lon":46,"lat":1.8},{"lon":25.5,"lat":0.5},{"lon":30.2,"lat":0.5},{"lon":29.4,"lat":-1.7},{"lon":29.7,"lat":-2},{"lon":30.3,"lat":-1.2},{"lon":32.5,"lat":-0.3},{"lon":33,"lat":0.2},{"lon":35.5,"lat":-0.5},{"lon":36.3,"lat":-1.7},{"lon":34.5,"lat":-1},{"lon":37,"lat":-0.8},{"lon":35.5,"lat":-2.5},{"lon":37.5,"lat":-2.2},{"lon":36.5,"lat":-3.3},{"lon":38,"lat":-3.2},{"lon":39,"lat":-3.8},{"lon":37.5,"lat":-4.3},{"lon":39.5,"lat":-6.7},{"lon":39.8,"lat":-6.4},{"lon":39.2,"lat":-6.5},{"lon":16,"lat":-4.2},{"lon":13.5,"lat":-9},
{"lon":27.9,"lat":-11.6},{"lon":34.6,"lat":-10.5},{"lon":34.3,"lat":-12},{"lon":35,"lat":-11.3},{"lon":34.8,"lat":-13},{"lon":33,"lat":-13.8},{"lon":35.8,"lat":-14},{"lon":41.1,"lat":-12.7},{"lon":48.5,"lat":-13.7},{"lon":40.2,"lat":-15.5},{"lon":41.1,"lat":-15.3},{"lon":35.5,"lat":-15.8},{"lon":35.7,"lat":-15.5},{"lon":38,"lat":-15},{"lon":37,"lat":-18},{"lon":31.3,"lat":-18},{"lon":34.3,"lat":-19.6},{"lon":34,"lat":-19},{"lon":34.8,"lat":-19.3},{"lon":28.9,"lat":-20.3},{"lon":23.9,"lat":-20.3},{"lon":15.1,"lat":-23.2},{"lon":48.5,"lat":-18.9},{"lon":48.2,"lat":-18.4},{"lon":48,"lat":-19.2},{"lon":47.2,"lat":-21},{"lon":43.7,"lat":-20.2},{"lon":45.7,"lat":-23.2},{"lon":43.5,"lat":-23.7},{"lon":47.6,"lat":-25},{"lon":47,"lat":-20},{"lon":36.3,"lat":-24.1},{"lon":31.5,"lat":-25.4},{"lon":32.5,"lat":-26.5},{"lon":30.5,"lat":-26.5},{"lon":33,"lat":-25},{"lon":31.8,"lat":-24.3},{"lon":23.8,"lat":-27.5},{"lon":27.4,"lat":-26},{"lon":28.5,"lat":-27},{"lon":30,"lat":-28},{"lon":32,"lat":-28},{"lon":28,"lat":-28.7},{"lon":30,"lat":-29.2},{"lon":31.5,"lat":-29.3},{"lon":33,"lat":-27.7},{"lon":27,"lat":-30},{"lon":28.9,"lat":-30.4},{"lon":30.5,"lat":-30.4},{"lon":25.5,"lat":-31},{"lon":27.5,"lat":-31.6},{"lon":29.5,"lat":-31.6},{"lon":25,"lat":-32.7},{"lon":26.5,"lat":-33},{"lon":28.9,"lat":-33.2},{"lon":27.5,"lat":-32.5},{"lon":23,"lat":-33.6},{"lon":25,"lat":-34},{"lon":26.5,"lat":-34.2},{"lon":24,"lat":-34.4},{"lon":22,"lat":-34.3},{"lon":20,"lat":-33.6},{"lon":19.4,"lat":-34.4},{"lon":18,"lat":-33.4},{"lon":18.3,"lat":-34.2},{"lon":20.3,"lat":-34.7},{"lon":17.7,"lat":-33.8},{"lon":14,"lat":-34.9}
]},
"mark":{"type":"point","shape":"circle","filled":false,"size":130,"stroke":"#111","strokeWidth":1.9,"opacity":1},
"encoding":{
"x":{"field":"lon","type":"quantitative","scale":{"domain":[-185.3,193.1],"nice":false,"zero":false},"axis":{"title":"df$geo.lon","titleX":463,"values":[-150,-100,-50,0,50,100,150],"labelExpr":"''+datum.value","grid":false,"domain":false,"tickSize":19,"tickWidth":2,"tickColor":"#333","labelFontSize":31,"labelColor":"#2a2a2a","labelFont":"Liberation Sans","labelPadding":26,"labelFlush":false,"titleFontSize":31,"titleFont":"Liberation Sans","titleFontWeight":"normal","titleColor":"#2a2a2a","titlePadding":48}},
"y":{"field":"lat","type":"quantitative","scale":{"domain":[-68.3,95],"nice":false,"zero":false},"axis":{"title":"df$geo.lat","values":[-50,0,50],"labelExpr":"''+datum.value","grid":false,"domain":false,"tickSize":19,"tickWidth":2,"tickColor":"#333","labelFontSize":31,"labelColor":"#2a2a2a","labelFont":"Liberation Sans","labelAngle":-90,"labelAlign":"center","labelBaseline":"bottom","labelPadding":33,"titleFontSize":31,"titleFont":"Liberation Sans","titleFontWeight":"normal","titleColor":"#2a2a2a","titlePadding":32}}
}}
